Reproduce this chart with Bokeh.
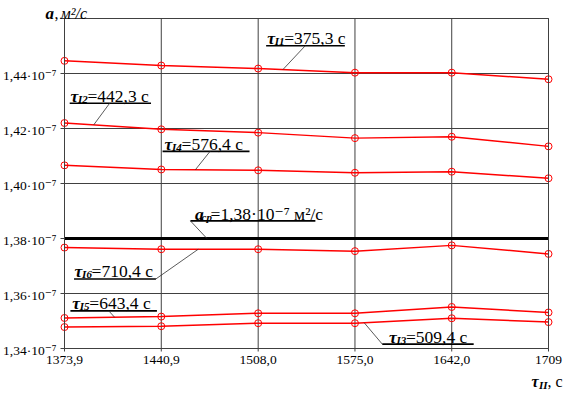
import numpy as np
from bokeh.plotting import figure
from bokeh.models import Label, Range1d
from bokeh.embed import file_html
from bokeh.resources import INLINE

FONT = "'Liberation Serif', 'Times New Roman', 'DejaVu Serif', serif"

# x axis: tau_II, s
tau_II = [1373.9, 1440.9, 1508.0, 1575.0, 1642.0, 1709.0]
tau_II_labels = ["1373,9", "1440,9", "1508,0", "1575,0", "1642,0", "1709"]

# thermal diffusivity a, in units of 1e-7 m^2/s
a_I1 = [1.4446, 1.4429, 1.4418, 1.4403, 1.4403, 1.4379]
a_I2 = [1.4220, 1.4197, 1.4185, 1.4165, 1.4170, 1.4135]
a_I4 = [1.4066, 1.4051, 1.4048, 1.4039, 1.4043, 1.4019]
a_I6 = [1.3767, 1.3761, 1.3761, 1.3754, 1.3775, 1.3744]
a_I5 = [1.3511, 1.3516, 1.3528, 1.3528, 1.3551, 1.3531]
a_I3 = [1.3478, 1.3481, 1.3492, 1.3492, 1.3510, 1.3496]
a_cp = 1.38

series_keys = ["I1", "I2", "I4", "I6", "I5", "I3"]
series_vals = [a_I1, a_I2, a_I4, a_I6, a_I5, a_I3]
series_times = ["375,3", "442,3", "576,4", "710,4", "643,4", "509,4"]

y_ticks = [1.34, 1.36, 1.38, 1.40, 1.42, 1.44, 1.46]
y_tick_labels = ["1,34·10⁻⁷", "1,36·10⁻⁷", "1,38·10⁻⁷", "1,40·10⁻⁷",
                 "1,42·10⁻⁷", "1,44·10⁻⁷", ""]

# annotation placement (data units): text x, underline x0, x1, y, leader start x, leader end x
label_pos = {
    "I1": (1514.2, 1513.5, 1568.0, 1.4501, 1540.6, 1525.1),
    "I2": (1378.0, 1377.5, 1433.8, 1.4292, 1405.2, 1394.1),
    "I4": (1443.2, 1441.8, 1502.0, 1.4117, 1474.7, 1464.5),
    "I6": (1380.9, 1380.5, 1437.2, 1.3653, 1437.2, 1466.5),
    "I5": (1379.3, 1378.0, 1437.9, 1.3537, 1404.5, 1408.6),
    "I3": (1598.5, 1593.9, 1657.2, 1.3416, 1593.9, 1581.4),
}
acp_pos = (1464.3, 1461.1, 1547.6, 1.3864, 1461.1, 1472.5)

# canvas layout (px)
W, H = 564, 392
BOX_L, BOX_R, BOX_T, BOX_B = 64, 16, 18, 44
x0, x1 = tau_II[0], tau_II[-1]
y0, y1 = y_ticks[0], y_ticks[-1]
kx = (x1 - x0) / (W - BOX_L - BOX_R)
ky = (y1 - y0) / (H - BOX_T - BOX_B)

p = figure(width=W, height=H, output_backend="svg", toolbar_location=None,
           x_range=Range1d(x0 - BOX_L * kx, x1 + BOX_R * kx),
           y_range=Range1d(y0 - BOX_B * ky, y1 + BOX_T * ky),
           x_axis_type=None, y_axis_type=None, min_border=0, title=None)
p.outline_line_color = None
p.background_fill_color = "white"
p.border_fill_color = "white"

GRID = "#404040"
# grid
p.segment(x0=tau_II, y0=[y0] * len(tau_II), x1=tau_II, y1=[y1] * len(tau_II),
          line_color=GRID, line_width=1)
p.segment(x0=[x0] * len(y_ticks), y0=y_ticks, x1=[x1] * len(y_ticks), y1=y_ticks,
          line_color=GRID, line_width=1)
# ticks
p.segment(x0=[x0 - 4 * kx] * len(y_ticks), y0=y_ticks, x1=[x0] * len(y_ticks), y1=y_ticks,
          line_color=GRID, line_width=1)
p.segment(x0=tau_II, y0=[y0 - 3 * ky] * len(tau_II), x1=tau_II, y1=[y0] * len(tau_II),
          line_color=GRID, line_width=1)

# mean line
p.line([x0, x1], [a_cp, a_cp], line_color="black", line_width=3)

for ys in series_vals:
    p.line(tau_II, ys, line_color="#ff0000", line_width=1.5)
    p.scatter(tau_II, ys, marker="circle", size=7, fill_color=None,
              line_color="#ff0000", line_width=1)


def add_text(x, y, text, dx, dy, size, style="normal", align="left", baseline="alphabetic"):
    p.add_layout(Label(x=x, y=y, x_offset=dx, y_offset=dy, text=text,
                       text_font=FONT, text_font_size=f"{size}px",
                       text_font_style=style, text_color="black",
                       text_baseline=baseline, text_align=align))


# tick labels
for t, lab in zip(y_ticks, y_tick_labels):
    if lab:
        add_text(x0, t, lab, -8, -1.5, 13.5, align="right", baseline="middle")
for t, lab in zip(tau_II, tau_II_labels):
    add_text(t, y0, lab, 0, -11, 13.5, align="center", baseline="middle")

ux0s, ux1s, uys, lx0s, ly0s, lx1s, ly1s = [], [], [], [], [], [], []
for key, ys, tval in zip(series_keys, series_vals, series_times):
    tx, ux0, ux1, uy, lx0, lx1 = label_pos[key]
    ux0s.append(ux0); ux1s.append(ux1); uys.append(uy)
    lx0s.append(lx0); ly0s.append(uy); lx1s.append(lx1)
    ly1s.append(float(np.interp(lx1, tau_II, ys)))
    add_text(tx, uy, "τ", 0, 7.5, 17.5, "bold italic")
    add_text(tx, uy, key, 7.5, 4.5, 11, "bold italic")
    add_text(tx, uy, "=" + tval + " с", 17, 7.5, 17.5)

tx, ux0, ux1, uy, lx0, lx1 = acp_pos
ux0s.append(ux0); ux1s.append(ux1); uys.append(uy)
lx0s.append(lx0); ly0s.append(uy); lx1s.append(lx1); ly1s.append(a_cp)
add_text(tx, uy, "a", 0, 7, 17.5, "bold italic")
add_text(tx, uy, "ср", 6.5, 4, 11, "bold italic")
add_text(tx, uy, "=1,38·10⁻⁷ м²/с", 15.5, 7, 17.5)

p.segment(x0=ux0s, y0=uys, x1=ux1s, y1=uys, line_color="black", line_width=1.6)
p.segment(x0=lx0s, y0=ly0s, x1=lx1s, y1=ly1s, line_color="#303030", line_width=0.8)

# plot box
p.quad(left=[x0], right=[x1], bottom=[y0], top=[y1], fill_color=None,
       line_color=GRID, line_width=1)

# axis titles
add_text(x0, y1, "a", -19, 5, 17, "bold italic")
add_text(x0, y1, ",", -10, 5, 16)
add_text(x0, y1, "м²/с", -4, 5, 16, "italic")

add_text(x1, y0, "τ", -17, -33, 16, "bold italic")
add_text(x1, y0, "II", -9.5, -36, 11, "bold italic")
add_text(x1, y0, ", с", -1, -33, 16)

open("out.html", "w").write(file_html(p, INLINE))
